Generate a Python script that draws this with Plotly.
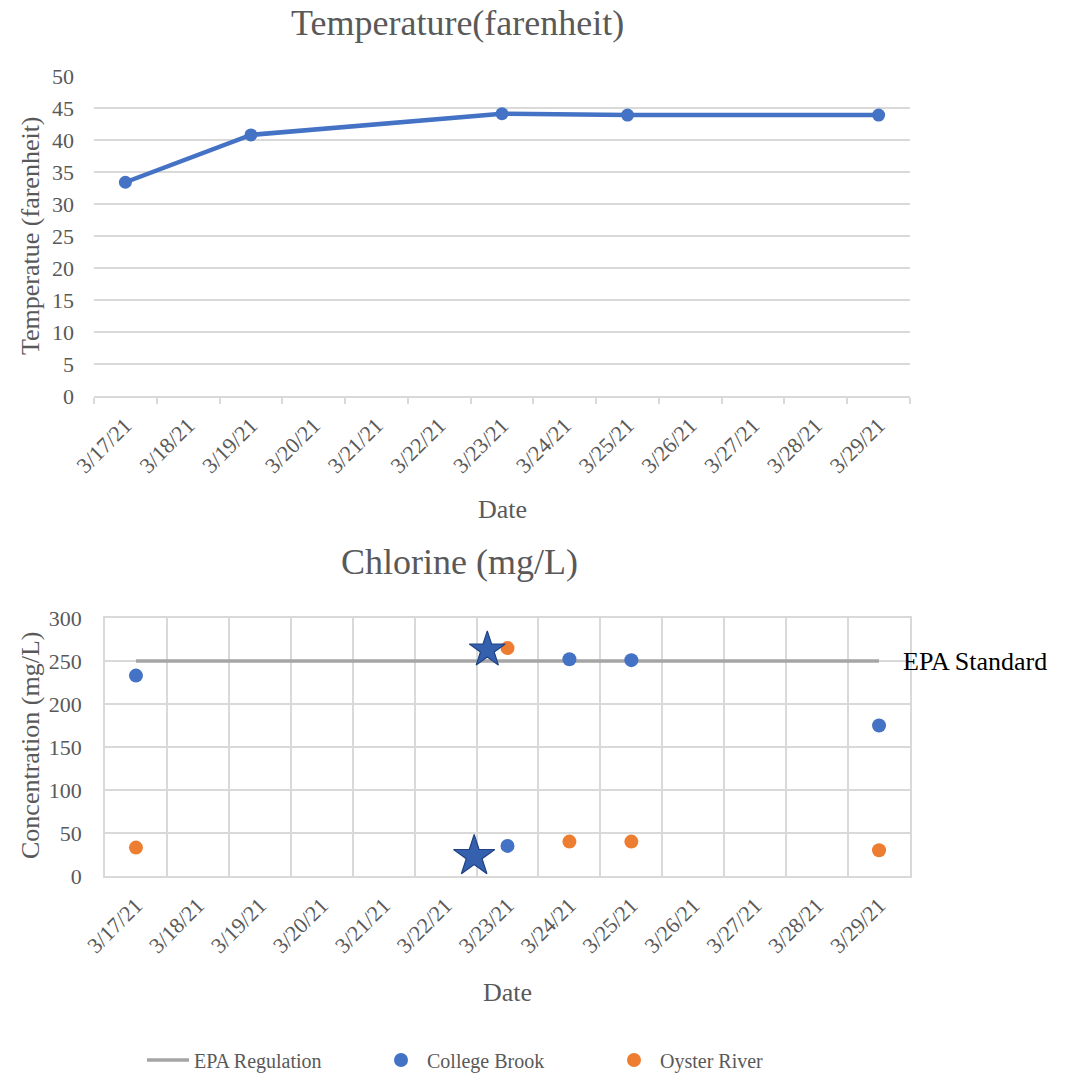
import plotly.graph_objects as go

# ---------------- data ----------------
all_dates = ["2021-03-17", "2021-03-18", "2021-03-19", "2021-03-20", "2021-03-21",
             "2021-03-22", "2021-03-23", "2021-03-24", "2021-03-25", "2021-03-26",
             "2021-03-27", "2021-03-28", "2021-03-29"]
tick_labels = ["3/17/21", "3/18/21", "3/19/21", "3/20/21", "3/21/21", "3/22/21", "3/23/21",
               "3/24/21", "3/25/21", "3/26/21", "3/27/21", "3/28/21", "3/29/21"]

temp_dates = ["2021-03-17", "2021-03-19", "2021-03-23", "2021-03-25", "2021-03-29"]
temp_values = [33.4, 40.8, 44.1, 43.9, 43.9]

epa_dates = ["2021-03-17", "2021-03-29"]
epa_values = [250, 250]

chl_dates = ["2021-03-17", "2021-03-23", "2021-03-24", "2021-03-25", "2021-03-29"]
college_brook = [233, 35, 252, 251, 175]
oyster_river = [33, 265, 40, 40, 30]

star_dates = ["2021-03-22 16:10", "2021-03-22 11:05"]
star_values = [263, 23]
star_sizes = [27, 31]

# ---------------- style ----------------
FONT = "Liberation Serif"
GREY_TXT = "#595959"
GRID = "#d9d9d9"
BLUE = "#4472c4"
ORANGE = "#ed7d31"
EPA_GREY = "#a5a5a5"

WF, HF = 1071, 1078


def X(p):
    return p / WF


def Y(p):
    return 1 - p / HF


fig = go.Figure()

fig.add_trace(go.Scatter(x=temp_dates, y=temp_values, mode="lines+markers",
                         line=dict(color=BLUE, width=4.5),
                         marker=dict(size=13, color=BLUE),
                         showlegend=False, xaxis="x", yaxis="y"))

fig.add_trace(go.Scatter(x=epa_dates, y=epa_values, mode="lines", name="EPA Regulation",
                         line=dict(color=EPA_GREY, width=3.5),
                         xaxis="x2", yaxis="y2"))
fig.add_trace(go.Scatter(x=chl_dates, y=college_brook, mode="markers", name="College Brook",
                         marker=dict(size=14, color=BLUE),
                         xaxis="x2", yaxis="y2"))
fig.add_trace(go.Scatter(x=chl_dates, y=oyster_river, mode="markers", name="Oyster River",
                         marker=dict(size=14, color=ORANGE),
                         xaxis="x2", yaxis="y2"))
fig.add_trace(go.Scatter(x=star_dates, y=star_values, mode="markers",
                         marker=dict(symbol="star", size=star_sizes, color="#3560ad",
                                     opacity=1, line=dict(color="#1f4283", width=1.2)),
                         showlegend=False, xaxis="x2", yaxis="y2"))

xrange_ = ["2021-03-16 12:00", "2021-03-29 12:00"]
ytickfont = dict(family=FONT, size=22, color=GREY_TXT)
xtickfont = dict(family=FONT, size=22, color=GREY_TXT)

common_x = dict(type="date", range=xrange_, tickmode="array", tickvals=all_dates,
                ticktext=tick_labels, tickangle=-45, tickfont=xtickfont,
                showgrid=False, ticks="", zeroline=False, fixedrange=True,
                automargin=False, ticklabelstandoff=6)

fig.update_layout(
    width=WF, height=HF,
    margin=dict(l=0, r=0, t=0, b=0, autoexpand=False),
    paper_bgcolor="white", plot_bgcolor="white",
    font=dict(family=FONT, color=GREY_TXT),
    xaxis=dict(domain=[X(94), X(910)], anchor="y",
               showline=True, linecolor=GRID, linewidth=1.5,
               minor=dict(tick0="2021-03-16 12:00", dtick=86400000, ticks="outside",
                          ticklen=6, tickcolor=GRID, tickwidth=1.5, showgrid=False),
               **common_x),
    yaxis=dict(domain=[Y(396), Y(76)], anchor="x", range=[0, 50], dtick=5,
               showgrid=True, gridcolor=GRID, gridwidth=1.5, zeroline=False,
               showline=False, tickfont=ytickfont, ticks="", automargin=False,
               ticklabelstandoff=19),
    xaxis2=dict(domain=[X(105), X(910)], anchor="y2",
                showline=True, linecolor=GRID, linewidth=1.5, mirror=True,
                minor=dict(tick0="2021-03-16 12:00", dtick=86400000, ticks="",
                           showgrid=True, gridcolor=GRID, gridwidth=1.5),
                **common_x),
    yaxis2=dict(domain=[Y(876), Y(618)], anchor="x2", range=[0, 300], dtick=50,
                showgrid=True, gridcolor=GRID, gridwidth=1.5, zeroline=False,
                showline=True, linecolor=GRID, linewidth=1.5, mirror=True,
                tickfont=ytickfont, ticks="", automargin=False, ticklabelstandoff=17),
    legend=dict(orientation="h", x=X(142), xanchor="left", y=Y(1060), yanchor="middle",
                font=dict(family=FONT, size=20, color=GREY_TXT),
                itemwidth=42, entrywidth=176, entrywidthmode="pixels",
                bgcolor="rgba(0,0,0,0)"),
)

annotations = [
    dict(text="Temperature(farenheit)", x=X(457), y=Y(23), xref="paper", yref="paper",
         showarrow=False, font=dict(family=FONT, size=36, color=GREY_TXT),
         xanchor="center", yanchor="middle"),
    dict(text="Chlorine (mg/L)", x=X(459), y=Y(562), xref="paper", yref="paper",
         showarrow=False, font=dict(family=FONT, size=36, color=GREY_TXT),
         xanchor="center", yanchor="middle"),
    dict(text="Temperatue (farenheit)", x=X(30), y=Y(236), xref="paper", yref="paper",
         showarrow=False, textangle=-90, font=dict(family=FONT, size=26, color=GREY_TXT),
         xanchor="center", yanchor="middle"),
    dict(text="Concentration (mg/L)", x=X(30), y=Y(746), xref="paper", yref="paper",
         showarrow=False, textangle=-90, font=dict(family=FONT, size=26, color=GREY_TXT),
         xanchor="center", yanchor="middle"),
    dict(text="Date", x=X(502), y=Y(510), xref="paper", yref="paper",
         showarrow=False, font=dict(family=FONT, size=26, color=GREY_TXT),
         xanchor="center", yanchor="middle"),
    dict(text="Date", x=X(507), y=Y(992), xref="paper", yref="paper",
         showarrow=False, font=dict(family=FONT, size=26, color=GREY_TXT),
         xanchor="center", yanchor="middle"),
    dict(text="EPA Standard", x=epa_dates[-1], y=epa_values[-1], xref="x2", yref="y2",
         showarrow=True, arrowhead=0, arrowwidth=1, arrowcolor=GRID, ax=22, ay=0,
         xanchor="left", yanchor="middle",
         font=dict(family=FONT, size=26, color="#000000")),
]
fig.update_layout(annotations=annotations)

fig.write_html("out.html",
               config={"displayModeBar": False},
               post_script="document.body.style.margin='0';"
                           "document.body.style.overflow='hidden';"
                           "document.documentElement.style.overflow='hidden';")
